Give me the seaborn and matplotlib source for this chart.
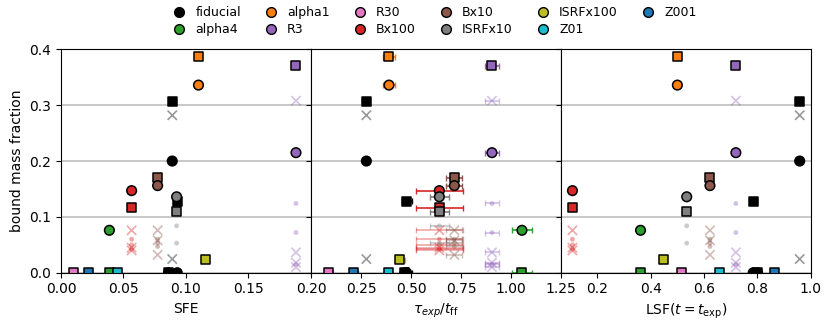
import numpy as np
import pandas as pd
import matplotlib
matplotlib.use("Agg")
import matplotlib.pyplot as plt
import seaborn as sns
from matplotlib.lines import Line2D

# ---------------------------------------------------------------
# data
# ---------------------------------------------------------------
runs = ['fiducial', 'fiducial', 'fiducial', 'alpha4', 'alpha1', 'R3', 'R30',
        'Bx100', 'Bx10', 'ISRFx10', 'ISRFx100', 'Z01', 'Z001']
sfe = [0.089, 0.093, 0.086, 0.0387, 0.110, 0.188, 0.0099,
       0.0565, 0.0773, 0.0925, 0.1155, 0.045, 0.022]
tau = [0.277, 0.478, 0.470, 1.055, 0.390, 0.905, 0.090,
       0.642, 0.717, 0.642, 0.445, 0.387, 0.215]
tau_err = [0.0, 0.025, 0.020, 0.052, 0.028, 0.035, 0.020,
           0.117, 0.040, 0.048, 0.025, 0.020, 0.020]
lsf = [0.958, 0.784, 0.800, 0.362, 0.500, 0.719, 0.516,
       0.107, 0.622, 0.535, 0.448, 0.657, 0.863]
f_circle = [0.200, 0.0, 0.0, 0.076, 0.336, 0.215, None,
            0.147, 0.156, 0.136, None, None, None]
f_square = [0.306, 0.128, 0.0, 0.0, 0.387, 0.371, 0.0,
            0.1165, 0.170, 0.109, 0.023, 0.0, 0.0]
f_cross = [[0.282, 0.0245], [], [], [], [], [0.308, 0.0365, 0.018, 0.010], [],
           [0.076, 0.045, 0.040], [0.076, 0.058, 0.032], [], [], [], []]
f_dot = [[], [], [], [], [], [0.124, 0.072, 0.015], [],
         [0.060, 0.050, 0.042], [0.060, 0.053, 0.047], [0.084, 0.053], [], [], []]

legend_order = ['fiducial', 'alpha4', 'alpha1', 'R3', 'R30', 'Bx100',
                'Bx10', 'ISRFx10', 'ISRFx100', 'Z01', 'Z001']
palette = {'fiducial': 'black', 'alpha4': 'tab:green', 'alpha1': 'tab:orange',
           'R3': 'tab:purple', 'R30': 'tab:pink', 'Bx100': 'tab:red',
           'Bx10': 'tab:brown', 'ISRFx10': 'tab:gray', 'ISRFx100': 'tab:olive',
           'Z01': 'tab:cyan', 'Z001': 'tab:blue'}

# long table : one row per marker
rows = []
for i, run in enumerate(runs):
    base = dict(run=run, SFE=sfe[i], tau=tau[i], tau_err=tau_err[i], LSF=lsf[i])
    if f_circle[i] is not None:
        rows.append({**base, 'kind': 'circle', 'f': f_circle[i]})
    if f_square[i] is not None:
        rows.append({**base, 'kind': 'square', 'f': f_square[i]})
    for v in f_cross[i]:
        rows.append({**base, 'kind': 'cross', 'f': v})
    for v in f_dot[i]:
        rows.append({**base, 'kind': 'dot', 'f': v})
df = pd.DataFrame(rows)

# ---------------------------------------------------------------
# figure
# ---------------------------------------------------------------
fig, axes = plt.subplots(1, 3, figsize=(8.3, 3.29), dpi=100, sharey=True)
fig.subplots_adjust(left=0.0735, right=0.977, top=0.85, bottom=0.171, wspace=0)

styles = {
    'cross': dict(marker='x', s=45, alpha=0.4, linewidth=1.2),
    'dot': dict(marker='o', s=12, alpha=0.4, linewidth=0),
    'square': dict(marker='s', s=42, edgecolor='black', linewidth=1.1),
    'circle': dict(marker='o', s=48, edgecolor='black', linewidth=1.1),
}

for ax, xcol in zip(axes, ['SFE', 'tau', 'LSF']):
    ax.yaxis.grid(True, color='0.75', linewidth=1.2)
    ax.set_axisbelow(True)
    if xcol == 'tau':
        for _, r in df.iterrows():
            if r['tau_err'] > 0:
                faded = r['kind'] in ('cross', 'dot')
                ax.errorbar(r['tau'], r['f'], xerr=r['tau_err'], fmt='none',
                            ecolor=palette[r['run']], elinewidth=1.2, capsize=2,
                            alpha=0.4 if faded else 1.0, zorder=1.5)
    for kind in ['cross', 'dot', 'square', 'circle']:
        sub = df[df['kind'] == kind]
        sns.scatterplot(data=sub, x=xcol, y='f', hue='run', palette=palette,
                        legend=False, ax=ax, zorder=3, **styles[kind])
    ax.set_ylabel('')
    ax.tick_params(labelsize=10)

axes[0].set_xlim(0, 0.2)
axes[0].set_xticks([0.0, 0.05, 0.10, 0.15, 0.20])
axes[1].set_xlim(0, 1.25)
axes[1].set_xticks([0.25, 0.5, 0.75, 1.0, 1.25])
axes[2].set_xlim(0.064, 1.0)
axes[2].set_xticks([0.2, 0.4, 0.6, 0.8, 1.0])
axes[0].set_ylim(0, 0.4)
axes[0].set_yticks([0.0, 0.1, 0.2, 0.3, 0.4])

axes[0].set_xlabel('SFE', fontsize=10)
axes[1].set_xlabel(r'$\tau_{exp}/t_{\rm ff}$', fontsize=10)
axes[2].set_xlabel(r'LSF$(t=t_{\rm exp})$', fontsize=10)
axes[0].set_ylabel('bound mass fraction', fontsize=10)

handles = [Line2D([], [], marker='o', linestyle='', markerfacecolor=palette[n],
                  markeredgecolor='black', markersize=7, label=n)
           for n in legend_order]
fig.legend(handles=handles, loc='upper center', bbox_to_anchor=(0.52, 1.015),
           ncol=6, frameon=False, fontsize=9, handletextpad=0.3,
           columnspacing=1.4, labelspacing=0.3)

fig.savefig('out.png', dpi=100)
